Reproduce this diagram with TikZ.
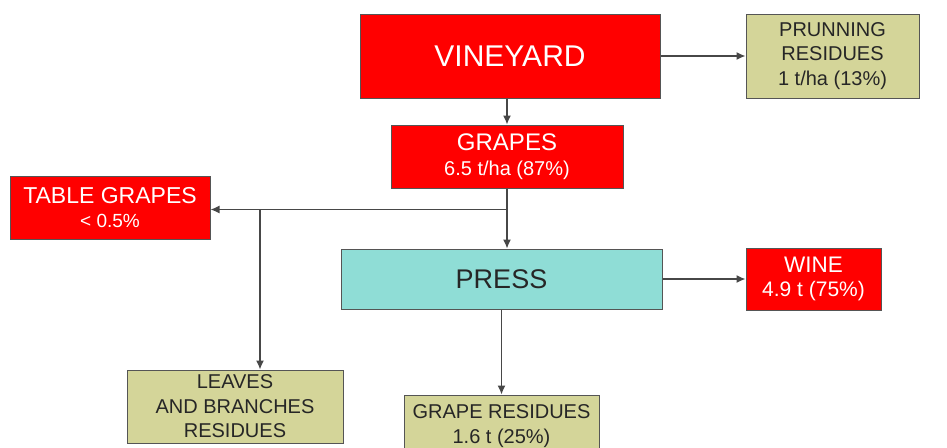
\documentclass[tikz,border=0pt]{standalone}
\usepackage{fontspec}
\setmainfont{Liberation Sans}
\usepackage{tikz}
\usetikzlibrary{positioning, arrows.meta}
\definecolor{vinered}{RGB}{255,0,0}
\definecolor{residue}{RGB}{212,213,153}
\definecolor{pressblue}{RGB}{143,221,214}
\definecolor{edge}{RGB}{85,85,85}
\newcommand{\fsz}[2]{\fontsize{#1}{#2}\selectfont}

\begin{document}
\begin{tikzpicture}[x=1pt,y=1pt,auto,node distance=20pt,>={Latex[length=9pt,width=8pt]},font=\fsz{20}{24.5}]
    \tikzstyle{box}=[draw=edge,line width=1pt,rectangle,inner sep=0pt,align=center]
    \tikzstyle{redbox}=[box,fill=vinered,text=white]
    \tikzstyle{olivebox}=[box,fill=residue,text=black!85]
    \tikzstyle{cyanbox}=[box,fill=pressblue,text=black!85]
    \tikzstyle{flow}=[->,draw=black!72,line width=1.3pt]

    \useasboundingbox (0,0) rectangle (947,-447);

    \node[redbox,minimum width=300pt,minimum height=84pt] (vine) at (510,-56) {\fsz{30}{36}VINEYARD};
    \node[olivebox,minimum width=173pt,minimum height=84pt,right=85pt of vine] (prun) {PRUNNING\\RESIDUES\\1 t/ha (13\%)};
    \node[redbox,minimum width=232pt,minimum height=63pt,below=26pt of vine,xshift=-3pt] (grapes) {{\fsz{24}{26}GRAPES}\\6.5 t/ha (87\%)};
    \node[redbox,minimum width=200pt,minimum height=63pt] (table) at (110,-207.5) {{\fsz{23}{25}TABLE GRAPES}\\{\fsz{19}{24}< 0.5\%}};
    \node[cyanbox,minimum width=321pt,minimum height=60pt,below=60pt of grapes,xshift=-5.5pt] (press) {\fsz{27}{32}PRESS};
    \node[redbox,minimum width=135pt,minimum height=62pt,right=83pt of press] (wine) {{\fsz{22.5}{25}WINE}\\{\fsz{21}{24}4.9 t (75\%)}};
    \node[olivebox,minimum width=216pt,minimum height=73pt] (leaves) at (235,-406.5) {LEAVES\\AND BRANCHES\\RESIDUES};
    \node[olivebox,minimum width=195pt,minimum height=62pt,below=85pt of press] (gres) {GRAPE RESIDUES\\1.6 t (25\%)};

    \coordinate[below=21pt of grapes.south] (split);
    \coordinate (drop) at ([xshift=25pt]leaves.north |- split);

    \draw[flow] (vine.south -| grapes.north) -- (grapes.north);
    \draw[flow] (vine) -- (prun);
    \draw[flow] (grapes.south) -- (grapes.south |- press.north);
    \draw[flow] (split) -- (split -| table.east);
    \draw[flow] (drop) -- (drop |- leaves.north);
    \draw[flow] (press.east) -- (press.east -| wine.west);
    \draw[flow] (press.south) -- (press.south |- gres.north);
\end{tikzpicture}
\end{document}
